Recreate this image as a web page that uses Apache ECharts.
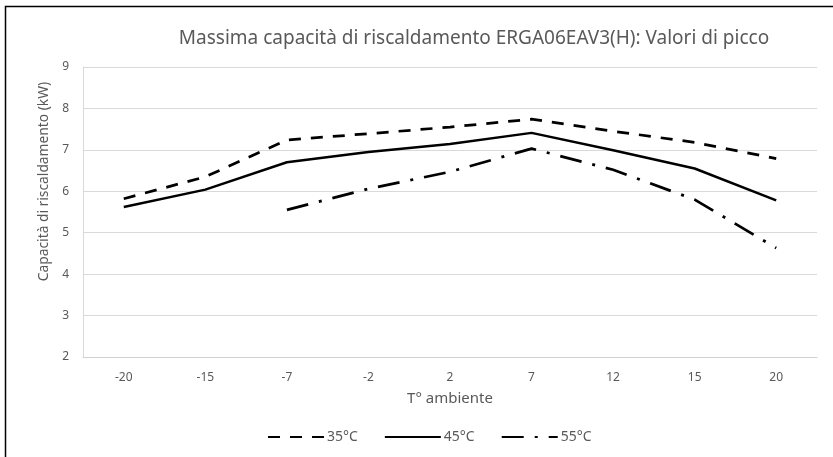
<!DOCTYPE html>
<html>
<head>
<meta charset="utf-8">
<script src="https://cdn.jsdelivr.net/npm/echarts@6/dist/echarts.min.js"></script>
<style>
html,body{margin:0;padding:0;background:#fff;}
#chart{width:833px;height:457px;}
</style>
</head>
<body>
<div id="chart"></div>
<script>
const categories = ['-20', '-15', '-7', '-2', '2', '7', '12', '15', '20'];
const seriesNames = ['35°C', '45°C', '55°C'];
const values35 = [5.82, 6.35, 7.24, 7.39, 7.55, 7.74, 7.45, 7.18, 6.79];
const values45 = [5.62, 6.04, 6.70, 6.95, 7.14, 7.41, 6.99, 6.55, 5.78];
const values55 = [null, null, 5.55, 6.06, 6.47, 7.03, 6.52, 5.80, 4.63];
const yTicks = { min: 2, max: 9, interval: 1 };

const FONT = '"Noto Sans", "Open Sans", sans-serif';
const TXT = '#595959';

const chart = echarts.init(document.getElementById('chart'), null, { renderer: 'canvas' });
chart.setOption({
  animation: false,
  backgroundColor: '#fff',
  textStyle: { fontFamily: FONT },
  graphic: [{
    type: 'rect', silent: true, z: 100,
    shape: { x: 5.5, y: 6.5, width: 900, height: 600 },
    style: { fill: 'none', stroke: '#000', lineWidth: 1.5 }
  }],
  title: {
    text: 'Massima capacità di riscaldamento ERGA06EAV3(H): Valori di picco',
    left: 469, textAlign: 'center', top: 24,
    textStyle: { fontFamily: FONT, fontSize: 19, fontWeight: 'normal', color: TXT }
  },
  legend: {
    bottom: 8, left: 262,
    itemWidth: 56, itemHeight: 12, itemGap: 26,
    itemStyle: { opacity: 0 },
    textStyle: { fontFamily: FONT, fontSize: 14, color: TXT, padding: [0, 0, 0, -2] },
    data: seriesNames
  },
  grid: { left: 83, right: 16, top: 67, bottom: 100 },
  xAxis: {
    type: 'category', data: categories, boundaryGap: true,
    name: 'T° ambiente', nameLocation: 'middle', nameGap: 34,
    nameTextStyle: { fontFamily: FONT, fontSize: 15, color: TXT },
    axisLine: { lineStyle: { color: '#d0d0d0', width: 1 } },
    axisTick: { show: false },
    axisLabel: { color: TXT, fontSize: 12, margin: 15, fontFamily: FONT }
  },
  yAxis: {
    type: 'value', min: yTicks.min, max: yTicks.max, interval: yTicks.interval,
    name: 'Capacità di riscaldamento (kW)', nameLocation: 'middle', nameGap: 31,
    nameTextStyle: { fontFamily: FONT, fontSize: 13.8, color: TXT, padding: [0, 0, 0, 61] },
    axisLine: { show: true, lineStyle: { color: '#d9d9d9', width: 1 } },
    axisTick: { show: false },
    splitLine: { lineStyle: { color: '#d9d9d9', width: 1 } },
    axisLabel: { color: TXT, fontSize: 12, margin: 14, fontFamily: FONT }
  },
  series: [
    { name: seriesNames[0], type: 'line', data: values35, symbol: 'none',
      color: '#000', lineStyle: { color: '#000', width: 2.75, type: [12, 10], cap: 'butt' } },
    { name: seriesNames[1], type: 'line', data: values45, symbol: 'none',
      color: '#000', lineStyle: { color: '#000', width: 2.5, type: 'solid' } },
    { name: seriesNames[2], type: 'line', data: values55, symbol: 'none', connectNulls: false,
      color: '#000', lineStyle: { color: '#000', width: 2.75, type: [22, 11, 3, 11], cap: 'butt' } }
  ]
});
</script>
</body>
</html>
